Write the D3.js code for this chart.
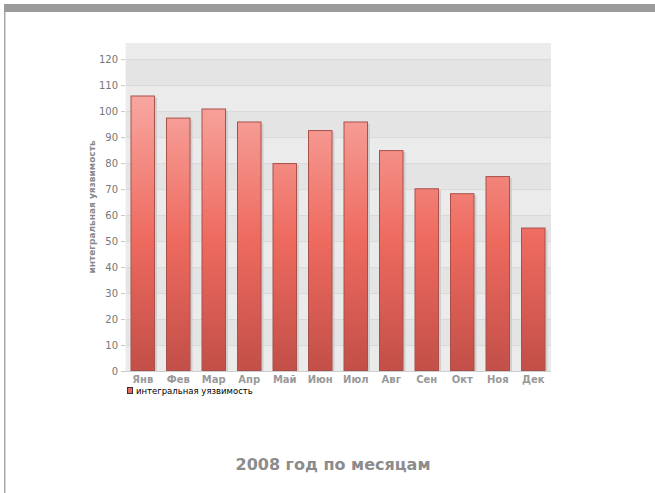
<!DOCTYPE html>
<html>
<head>
<meta charset="utf-8">
<script src="https://cdn.jsdelivr.net/npm/d3@7"></script>
<style>
  body { margin: 0; background: #fff; }
  svg { display: block; }
</style>
</head>
<body>
<svg id="chart" width="655" height="493"></svg>
<script>
// monthly values
const months = ['Янв', 'Фев', 'Мар', 'Апр', 'Май', 'Июн', 'Июл', 'Авг', 'Сен', 'Окт', 'Ноя', 'Дек'];
const values = [106, 97.5, 101, 96, 80, 92.7, 96, 85, 70.3, 68.4, 75, 55.2];
const yTicks = [0, 10, 20, 30, 40, 50, 60, 70, 80, 90, 100, 110, 120];
const seriesName = 'интегральная уязвимость';
const title = '2008 год по месяцам';

const svg = d3.select('#chart');
const font = 'DejaVu Sans, Verdana, sans-serif';

// page frame: grey strip on top and thin line on the left
svg.append('rect').attr('x', 4).attr('y', 4).attr('width', 651).attr('height', 8).attr('fill', '#9b9b9b');
svg.append('rect').attr('x', 4).attr('y', 12).attr('width', 1.5).attr('height', 481).attr('fill', '#a8a8a8');

const plot = { left: 125, right: 551, top: 43, bottom: 371 };

const x = d3.scaleBand().domain(months).range([plot.left, plot.right]).paddingInner(0.31).paddingOuter(0.155);
const y = d3.scaleLinear().domain([0, 126.2]).range([plot.bottom, plot.top]);

// gradient for the bars, tied to the plot height
const defs = svg.append('defs');
const grad = defs.append('linearGradient')
  .attr('id', 'barGrad')
  .attr('gradientUnits', 'userSpaceOnUse')
  .attr('x1', 0).attr('x2', 0)
  .attr('y1', plot.top).attr('y2', plot.bottom);
grad.append('stop').attr('offset', '0%').attr('stop-color', '#fbbdb8');
grad.append('stop').attr('offset', '60%').attr('stop-color', '#ee6a5f');
grad.append('stop').attr('offset', '100%').attr('stop-color', '#c24f48');

// plot background with alternating bands
svg.append('rect')
  .attr('x', plot.left).attr('y', plot.top)
  .attr('width', plot.right - plot.left).attr('height', plot.bottom - plot.top)
  .attr('fill', '#ebebeb');

svg.append('g')
  .selectAll('rect')
  .data(yTicks.filter((t) => t % 20 === 0 && t < 120).map((t) => t + 10))
  .join('rect')
  .attr('x', plot.left)
  .attr('width', plot.right - plot.left)
  .attr('y', (d) => y(d + 10))
  .attr('height', (d) => y(d) - y(d + 10))
  .attr('fill', '#e4e4e4');

// horizontal grid lines
svg.append('g')
  .selectAll('line')
  .data(yTicks.filter((t) => t > 0))
  .join('line')
  .attr('x1', plot.left).attr('x2', plot.right)
  .attr('y1', (d) => y(d) + 0.5).attr('y2', (d) => y(d) + 0.5)
  .attr('stroke', '#d9d9d9');

// left edge of plot
svg.append('line')
  .attr('x1', plot.left + 0.5).attr('x2', plot.left + 0.5)
  .attr('y1', plot.top).attr('y2', plot.bottom)
  .attr('stroke', '#f6f6f6');

// bars with a soft shadow
svg.append('g')
  .selectAll('rect')
  .data(values)
  .join('rect')
  .attr('x', (d, i) => x(months[i]) + 2)
  .attr('y', (d) => y(d) + 2)
  .attr('width', x.bandwidth())
  .attr('height', (d) => y(0) - y(d) - 2)
  .attr('fill', '#cfcfcf');

svg.append('g')
  .selectAll('rect')
  .data(values)
  .join('rect')
  .attr('x', (d, i) => x(months[i]) + 0.5)
  .attr('y', (d) => y(d) + 0.5)
  .attr('width', x.bandwidth() - 1)
  .attr('height', (d) => y(0) - y(d) - 1)
  .attr('fill', 'url(#barGrad)')
  .attr('stroke', '#a8504a')
  .attr('stroke-width', 1);

// bottom axis line
svg.append('line')
  .attr('x1', plot.left).attr('x2', plot.right)
  .attr('y1', plot.bottom + 0.5).attr('y2', plot.bottom + 0.5)
  .attr('stroke', '#cfcfcf');

// y axis
const yAxis = svg.append('g')
  .attr('transform', `translate(${plot.left},0)`)
  .call(d3.axisLeft(y).tickValues(yTicks).tickSize(4).tickPadding(3));
yAxis.select('.domain').remove();
yAxis.selectAll('line').attr('stroke', '#c8c8c8');
yAxis.selectAll('text')
  .attr('fill', '#777')
  .attr('font-family', font)
  .attr('font-size', 10);

// x axis labels
const xAxis = svg.append('g')
  .attr('transform', `translate(0,${plot.bottom})`)
  .call(d3.axisBottom(x).tickSize(0).tickPadding(5));
xAxis.select('.domain').remove();
xAxis.selectAll('text')
  .attr('fill', '#999')
  .attr('font-family', font)
  .attr('font-weight', 'bold')
  .attr('font-size', 10);

// y axis title
svg.append('text')
  .attr('transform', `translate(95,${(plot.top + plot.bottom) / 2}) rotate(-90)`)
  .attr('text-anchor', 'middle')
  .attr('fill', '#888')
  .attr('font-family', font)
  .attr('font-weight', 'bold')
  .attr('font-size', 9)
  .text(seriesName);

// legend
svg.append('rect')
  .attr('x', 127.5).attr('y', 387.5).attr('width', 5).attr('height', 6)
  .attr('fill', '#e66a60').attr('stroke', '#333');
svg.append('text')
  .attr('x', 136).attr('y', 394)
  .attr('fill', '#000')
  .attr('font-family', font)
  .attr('font-size', 8.5)
  .text(seriesName);

// title
svg.append('text')
  .attr('x', 333).attr('y', 470)
  .attr('text-anchor', 'middle')
  .attr('fill', '#8c8c8c')
  .attr('font-family', font)
  .attr('font-weight', 'bold')
  .attr('font-size', 16)
  .text(title);
</script>
</body>
</html>
